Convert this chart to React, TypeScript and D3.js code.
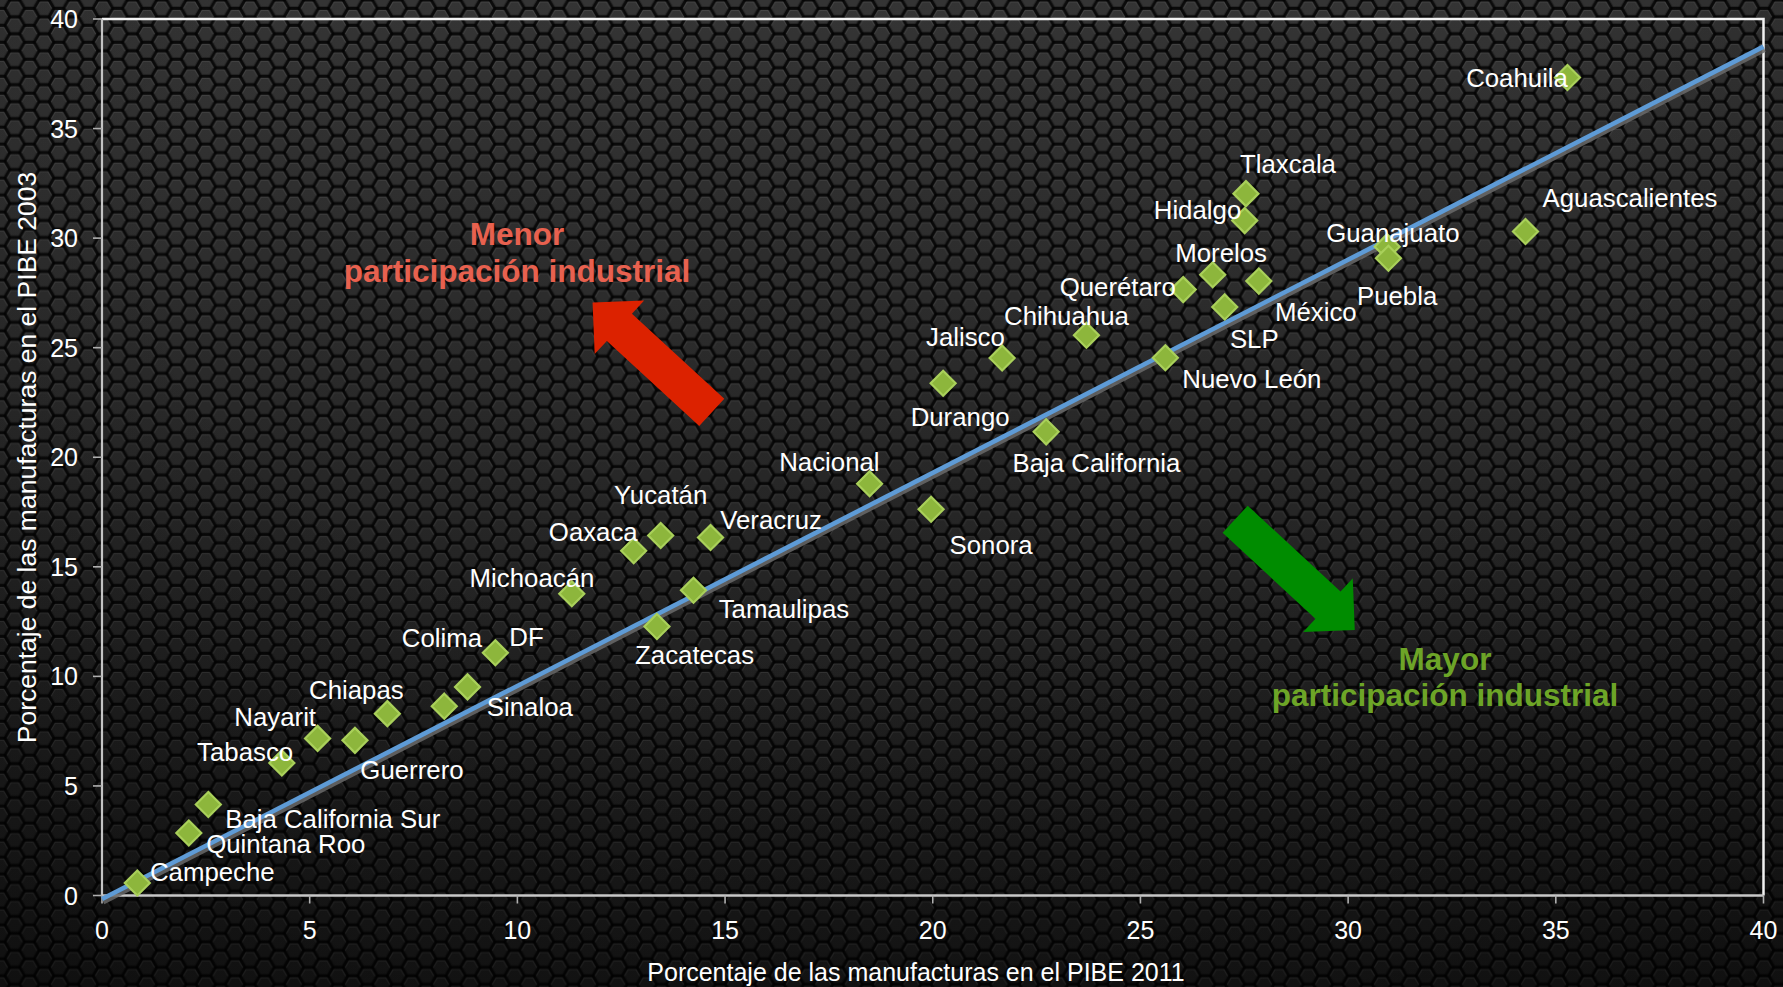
import React from "react";
import * as d3 from "d3";

const W = 1783;
const H = 987;

// ---- data ----
const states = [
  "Campeche", "Quintana Roo", "Baja California Sur", "Tabasco", "Nayarit", "Guerrero",
  "Chiapas", "Colima", "Sinaloa", "DF", "Michoacán", "Oaxaca", "Zacatecas", "Yucatán",
  "Tamaulipas", "Veracruz", "Nacional", "Sonora", "Durango", "Jalisco", "Baja California",
  "Chihuahua", "Nuevo León", "Querétaro", "Morelos", "SLP", "Hidalgo", "Tlaxcala",
  "México", "Guanajuato", "Puebla", "Aguascalientes", "Coahuila",
];
const pibe2011 = [
  0.85, 2.09, 2.56, 4.33, 5.19, 6.09,
  6.87, 8.24, 8.80, 9.47, 11.31, 12.80, 13.36, 13.45,
  14.24, 14.65, 18.48, 19.96, 20.25, 21.67, 22.73,
  23.70, 25.60, 26.03, 26.74, 27.03, 27.51, 27.54,
  27.85, 30.94, 30.97, 34.27, 35.28,
];
const pibe2003 = [
  0.57, 2.85, 4.15, 6.05, 7.17, 7.08,
  8.30, 8.64, 9.52, 11.08, 13.77, 15.73, 12.28, 16.43,
  13.93, 16.34, 18.79, 17.63, 23.38, 24.53, 21.16,
  25.57, 24.54, 27.65, 28.33, 26.86, 30.80, 32.03,
  28.04, 29.61, 29.08, 30.30, 37.33,
];
const xTicks = [0, 5, 10, 15, 20, 25, 30, 35, 40];
const yTicks = [0, 5, 10, 15, 20, 25, 30, 35, 40];
const trendIntercept = -0.16;
const trendSlope = 0.9725;
const xTitle = "Porcentaje de las manufacturas en el PIBE 2011";
const yTitle = "Porcentaje de las manufacturas en el PIBE 2003";
const redText = ["Menor", "participación industrial"];
const greenText = ["Mayor", "participación industrial"];
// arrows: [tail x, tail y, tip x, tip y] in data units
const redArrow = [14.68, 22.05, 11.81, 27.06];
const greenArrow = [27.28, 17.17, 30.16, 12.12];

// ---- layout (label placement, pixels relative to marker) ----
const labelOffsets: [number, number][] = [
  [75, -10.7], [97, 11], [124.4, 14], [-36.7, -11.2], [-42.4, -21.5], [57, 29.4],
  [-31, -23.5], [-2.3, -68.3], [62.3, 20.2], [31.2, -16], [-39.8, -16], [-40.4, -18.8],
  [37.6, 28.5], [0, -40.5], [90.4, 18.5], [60.6, -17.5], [-40.2, -21.3], [60, 36.3],
  [17, 34.2], [-36.7, -20.8], [50.3, 31], [-20, -18.8], [86.5, 21.7], [-65.5, -3],
  [8.4, -21.9], [29.5, 31.7], [-47.2, -10.9], [42, -29.9], [57, 31.3], [5.7, -13.9],
  [8.7, 37.9], [104.5, -33.2], [-50.4, 0.7],
];

const FONT = "'Liberation Sans', Arial, Helvetica, sans-serif";
const PL = 102, PR = 1763.5, PT = 19, PB = 895.5;

function hexPoints(cx: number, cy: number, r: number) {
  const h = (Math.sqrt(3) / 2) * r;
  return [
    [cx + r, cy], [cx + r / 2, cy + h], [cx - r / 2, cy + h],
    [cx - r, cy], [cx - r / 2, cy - h], [cx + r / 2, cy - h],
  ];
}

function arrowPath(a: number[], sx: d3.ScaleLinear<number, number>, sy: d3.ScaleLinear<number, number>) {
  const tx = sx(a[0]), ty = sy(a[1]), px = sx(a[2]), py = sy(a[3]);
  const dx = px - tx, dy = py - ty;
  const len = Math.hypot(dx, dy);
  const ux = dx / len, uy = dy / len;
  const nx = -uy, ny = ux;
  const s = 18.5, hw = 36.5, hl = 36.5;
  const bx = px - ux * hl, by = py - uy * hl;
  const pts = [
    [tx + nx * s, ty + ny * s], [bx + nx * s, by + ny * s], [bx + nx * hw, by + ny * hw],
    [px, py], [bx - nx * hw, by - ny * hw], [bx - nx * s, by - ny * s], [tx - nx * s, ty - ny * s],
  ];
  return d3.line()(pts as [number, number][]) + "Z";
}

export default function App() {
  const x = d3.scaleLinear().domain([0, 40]).range([PL, PR]);
  const y = d3.scaleLinear().domain([0, 40]).range([PB, PT]);

  const R = 9.8;
  const HH = Math.sqrt(3) * R;
  const centers = [
    [0, 0], [3 * R, 0], [0, HH], [3 * R, HH], [1.5 * R, HH / 2], [1.5 * R, -HH / 2], [1.5 * R, 1.5 * HH],
  ];

  const trend = d3
    .line<number>()
    .x((d) => x(d))
    .y((d) => y(trendIntercept + trendSlope * d));
  const trendD = trend([0, 40]) || "";

  const diamond = "M0,-12.5L12.5,0L0,12.5L-12.5,0Z";

  return (
    <svg
      width={W}
      height={H}
      viewBox={`0 0 ${W} ${H}`}
      style={{ position: "fixed", left: 0, top: 0, display: "block" }}
      fontFamily={FONT}
    >
      <defs>
        <linearGradient id="bg" x1="0" y1="0" x2="0" y2="1">
          <stop offset="0" stopColor="#343434" />
          <stop offset="0.45" stopColor="#282828" />
          <stop offset="1" stopColor="#181818" />
        </linearGradient>
        <radialGradient id="vig" cx="0.5" cy="0.25" r="0.9">
          <stop offset="0.45" stopColor="#000" stopOpacity="0" />
          <stop offset="1" stopColor="#000" stopOpacity="0.35" />
        </radialGradient>
        <pattern id="hex" width={3 * R} height={HH} patternUnits="userSpaceOnUse">
          {centers.map((c, i) => {
            const outer = hexPoints(c[0], c[1], R);
            const inner = hexPoints(c[0], c[1], R - 2.1);
            const top = [inner[3], inner[4], inner[5], inner[0]];
            const bot = [inner[0], inner[1], inner[2], inner[3]];
            return (
              <g key={i}>
                <polygon
                  points={outer.map((p) => p.join(",")).join(" ")}
                  fill="none"
                  stroke="#000"
                  strokeOpacity={0.55}
                  strokeWidth={2.8}
                />
                <polyline
                  points={top.map((p) => p.join(",")).join(" ")}
                  fill="none"
                  stroke="#fff"
                  strokeOpacity={0.08}
                  strokeWidth={1.3}
                />
                <polyline
                  points={bot.map((p) => p.join(",")).join(" ")}
                  fill="none"
                  stroke="#000"
                  strokeOpacity={0.22}
                  strokeWidth={1.3}
                />
              </g>
            );
          })}
        </pattern>
      </defs>

      <rect x={0} y={0} width={W} height={H} fill="url(#bg)" />
      <rect x={0} y={0} width={W} height={H} fill="url(#hex)" />
      <rect x={0} y={0} width={W} height={H} fill="url(#vig)" />

      {/* plot border top/right */}
      <path d={`M${PL},${PT}H${PR}V${PB}`} fill="none" stroke="#f2f2f2" strokeWidth={2.5} />
      {/* axes */}
      <line x1={PL} y1={PT} x2={PL} y2={PB} stroke="#c4c4c4" strokeWidth={2.2} />
      <line x1={PL} y1={PB} x2={PR} y2={PB} stroke="#c8c8c8" strokeWidth={2.5} />
      {yTicks.map((t) => (
        <g key={"y" + t}>
          <line x1={PL - 9} x2={PL} y1={y(t)} y2={y(t)} stroke="#b0b0b0" strokeWidth={1.6} />
          <text x={78} y={y(t) + 9} textAnchor="end" fill="#fff" fontSize={25}>
            {t}
          </text>
        </g>
      ))}
      {xTicks.map((t) => (
        <g key={"x" + t}>
          <line x1={x(t)} x2={x(t)} y1={PB} y2={PB + 8} stroke="#b0b0b0" strokeWidth={1.6} />
          <text x={x(t)} y={939} textAnchor="middle" fill="#fff" fontSize={25}>
            {t}
          </text>
        </g>
      ))}
      <text x={916} y={981} textAnchor="middle" fill="#fff" fontSize={25}>
        {xTitle}
      </text>
      <text
        transform={`translate(36,457.5) rotate(-90)`}
        textAnchor="middle"
        fill="#fff"
        fontSize={26.5}
      >
        {yTitle}
      </text>

      {/* trendline */}
      <path d={trendD} transform="translate(1.2,3)" stroke="#6a6a6a" strokeOpacity={0.85} strokeWidth={5} fill="none" />
      <path d={trendD} stroke="#5e9bd6" strokeWidth={4.6} fill="none" />

      {/* markers */}
      {states.map((s, i) => (
        <path
          key={"m" + s}
          d={diamond}
          transform={`translate(${x(pibe2011[i])},${y(pibe2003[i])})`}
          fill="#8db63c"
          stroke="#a9d05a"
          strokeWidth={2.2}
        />
      ))}
      {/* labels */}
      {states.map((s, i) => (
        <text
          key={"l" + s}
          x={x(pibe2011[i]) + labelOffsets[i][0]}
          y={y(pibe2003[i]) + labelOffsets[i][1] + 9}
          textAnchor="middle"
          fill="#fff"
          fontSize={25.8}
        >
          {s}
        </text>
      ))}

      {/* annotations */}
      <text x={517} y={245} textAnchor="middle" fill="#e8614f" fontSize={31.5} fontWeight="bold">
        {redText[0]}
      </text>
      <text x={517} y={282} textAnchor="middle" fill="#e8614f" fontSize={31.5} fontWeight="bold">
        {redText[1]}
      </text>
      <text x={1445} y={670} textAnchor="middle" fill="#6da527" fontSize={31.5} fontWeight="bold">
        {greenText[0]}
      </text>
      <text x={1445} y={706} textAnchor="middle" fill="#6da527" fontSize={31.5} fontWeight="bold">
        {greenText[1]}
      </text>
      <path d={arrowPath(redArrow, x, y)} fill="#dc2200" />
      <path d={arrowPath(greenArrow, x, y)} fill="#008c00" />
    </svg>
  );
}
